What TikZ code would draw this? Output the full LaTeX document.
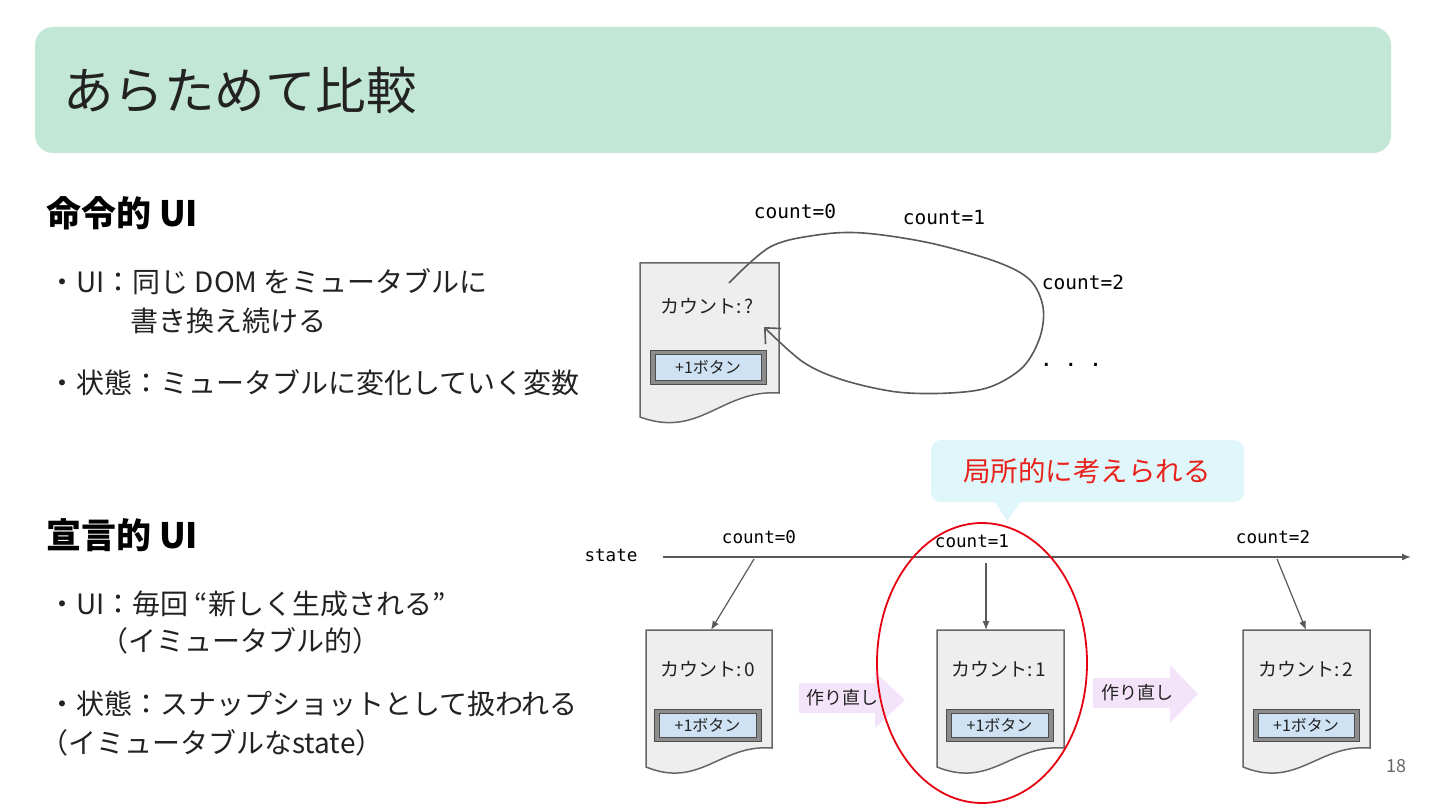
\documentclass[tikz,border=0pt]{standalone}
\usepackage{fontspec}
\setmainfont{Noto Sans CJK JP}
\newfontfamily\monofont{DejaVu Sans Mono}
\usetikzlibrary{arrows.meta}
\definecolor{titlegreen}{HTML}{C3E7D7}
\definecolor{docfill}{HTML}{EEEEEE}
\definecolor{docline}{HTML}{666666}
\definecolor{btnblue}{HTML}{CFE2F3}
\definecolor{btngray}{HTML}{8C8C8C}
\definecolor{btnedge}{HTML}{4D4D4D}
\definecolor{pinkarrow}{HTML}{F4E4F9}
\definecolor{calloutbg}{HTML}{DFF7FA}
\definecolor{ellred}{HTML}{E60012}
\definecolor{txtred}{HTML}{E8211A}
\definecolor{linegray}{HTML}{595959}
\definecolor{txtdark}{HTML}{222222}
\newcommand\myfs[1]{\fontsize{#1}{#1}\selectfont}
\tikzset{
  lbl/.style={inner sep=0pt, text=txtdark},
  body/.style={lbl, anchor=west, font=\myfs{28}},
  heading/.style={lbl, anchor=west, font=\bfseries\myfs{35}, text=black},
  code/.style={lbl, font=\monofont\myfs{19.5}, text=black},
  codesm/.style={lbl, font=\monofont\myfs{17.6}, text=black},
  docstyle/.style={fill=docfill, draw=docline, line width=1.5pt},
  conn/.style={draw=linegray, line width=1.6pt},
  redo/.style={fill=pinkarrow},
}
% name, L, T, R, RB, LB
\newcommand\mydoc[6]{%
  \filldraw[docstyle] (#2,#3) -- (#4,#3) -- (#4,#5)
    .. controls ({#4-0.41*(#4-#2)},{#5-4}) and ({#2+0.43*(#4-#2)},{#6+22}) .. (#2,#6) -- cycle;
  \coordinate (#1top) at ({(#2+#4)/2},#3);
}
% name, L, T, R, B
\newcommand\mybtn[5]{%
  \filldraw[fill=btngray, draw=btnedge, line width=1pt] (#2,#3) rectangle (#4,#5);
  \filldraw[fill=btnblue, draw=btnedge, line width=0.8pt] ({#2+5},{#3+4}) rectangle ({#4-5},{#5-4});
  \node[lbl, font=\myfs{16}] (#1) at ({(#2+#4)/2},{(#3+#5)/2}) {+1ボタン};
}
\begin{document}
\begin{tikzpicture}[x=1pt,y=-1pt]
\useasboundingbox (0,0) rectangle (1440,810);
\fill[white] (0,0) rectangle (1440,810);

% title bar
\fill[titlegreen, rounded corners=18pt] (35,27) rectangle (1391,153);
\node[lbl, anchor=west, font=\myfs{50.5}] (title) at (63,90) {あらためて比較};

% left texts
\node[heading] (h1) at (46,213) {命令的 UI};
\node[body] (b1) at (48,282) {・UI：同じ DOM をミュータブルに};
\node[body] (b2) at (130,321) {書き換え続ける};
\node[body] (b3) at (48,383) {・状態：ミュータブルに変化していく変数};

\node[heading] (h2) at (46,535) {宣言的 UI};
\node[body] (b4) at (48,604) {・UI：毎回 “新しく生成される”};
\node[body] (b5) at (100,641) {（イミュータブル的）};
\node[body] (b6) at (48,704) {・状態：スナップショットとして扱われる};
\node[body] (b7) at (40,743) {（イミュータブルなstate）};

% ---------- top diagram ----------
\mydoc{d0}{640}{263}{779}{393}{417}
\node[lbl, font=\myfs{19}] (c0) at (707,306) {カウント:\hspace{3pt}?};
\mybtn{btn0}{650}{350}{766}{384}

\coordinate (ls) at (729,283);
\coordinate (le) at (764,327);
\draw[conn, -{Straight Barb[length=12pt,width=22pt]}] plot[smooth, tension=0.55] coordinates {
  (ls) (770,247) (817,235) (863,233) (930,243) (997,262) (1030,280) (1043,307)
  (1040,337) (1023,367) (990,387) (950,393) (897,392) (843,380) (803,362) (le)};

\node[code] (t0) at (795,211) {count=0};
\node[code] (t1) at (944,218) {count=1};
\node[code] (t2) at (1083,282) {count=2};
\node[lbl, font=\monofont\bfseries\myfs{17.5}, text=black] (tdots) at (1071,365) {. . .};

% ---------- callout ----------
\fill[calloutbg, rounded corners=10pt] (931,440) rectangle (1244,502);
\fill[calloutbg] (994,500) -- (1022,500) -- (1007,521) -- cycle;
\node[lbl, font=\myfs{27.5}, text=txtred] (callout) at (1087,471) {局所的に考えられる};

% ---------- bottom diagram ----------
\node[codesm] (state) at (611,555) {state};
\coordinate (axs) at (663,557);
\coordinate (axe) at (1411,557);
\draw[conn, line width=1.4pt, -{Latex[length=9pt,width=7pt]}] (axs) -- (axe);

\node[codesm] (s0) at (759,537) {count=0};
\node[codesm] (s1) at (972,541) {count=1};
\node[codesm] (s2) at (1273,537) {count=2};

\mydoc{d1}{646}{630}{772}{748}{767}
\mydoc{d2}{937}{630}{1064}{748}{767}
\mydoc{d3}{1243}{630}{1370}{748}{767}

\node[lbl, font=\myfs{19}] (k1) at (708,669) {カウント:\hspace{3pt}0};
\node[lbl, font=\myfs{19}] (k2) at (999,669) {カウント:\hspace{3pt}1};
\node[lbl, font=\myfs{19}] (k3) at (1306,669) {カウント:\hspace{3pt}2};
\mybtn{btn1}{654}{709}{761}{741}
\mybtn{btn2}{946}{709}{1053}{741}
\mybtn{btn3}{1253}{709}{1359}{741}

\coordinate (a0) at (754,559);
\coordinate (a1) at (986,563);
\coordinate (a2) at (1277,559);
\coordinate (d1in) at (711,630);
\coordinate (d2in) at (986,630);
\coordinate (d3in) at (1306,630);
\draw[conn, line width=1.2pt, -{Latex[length=9pt,width=7pt]}] (a0) -- (d1in);
\draw[conn, line width=1.2pt, -{Latex[length=9pt,width=7pt]}] (a1) -- (d2in);
\draw[conn, line width=1.2pt, -{Latex[length=9pt,width=7pt]}] (a2) -- (d3in);

% redo arrows
\fill[redo] (799,683) -- (875,683) -- (875,672) -- (905,700) -- (875,728) -- (875,713) -- (799,713) -- cycle;
\node[lbl, font=\myfs{18}] (r1) at (842,698) {作り直し};
\fill[redo] (1093,678) -- (1170,678) -- (1170,665) -- (1198,694) -- (1170,723) -- (1170,708) -- (1093,708) -- cycle;
\node[lbl, font=\myfs{18}] (r2) at (1137,693) {作り直し};

% red ellipse
\draw[ellred, line width=1.8pt] (982,663) ellipse [x radius=105, y radius=140];

% page number
\node[lbl, font=\myfs{18}, text=docline] (pg) at (1396,766) {18};
\end{tikzpicture}
\end{document}
